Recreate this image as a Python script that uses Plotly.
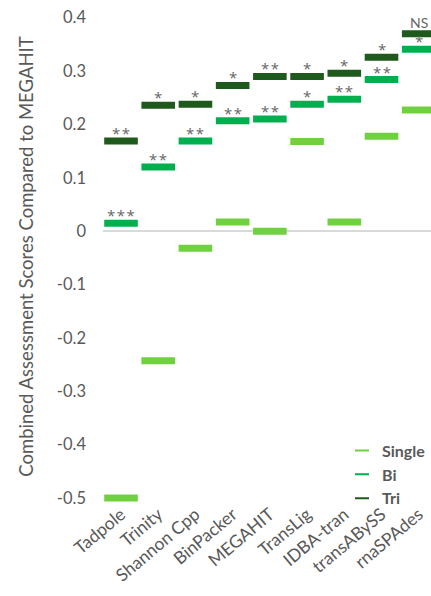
import plotly.graph_objects as go

# Assemblers, ordered by their tri-sample score
assemblers = ["Tadpole", "Trinity", "Shannon Cpp", "BinPacker", "MEGAHIT",
              "TransLig", "IDBA-tran", "transABySS", "rnaSPAdes"]

# Combined assessment scores relative to MEGAHIT
single = [-0.500, -0.243, -0.032, 0.017, 0.000, 0.168, 0.017, 0.178, 0.227]
bi = [0.015, 0.120, 0.169, 0.207, 0.210, 0.238, 0.247, 0.284, 0.341]
tri = [0.169, 0.236, 0.238, 0.273, 0.290, 0.290, 0.296, 0.326, 0.370]

# Significance labels for the Bi and Tri scores
bi_sig = ["***", "**", "**", "**", "**", "*", "**", "**", "*"]
tri_sig = ["**", "*", "*", "*", "**", "*", "*", "*", "NS"]

series_names = ["Single", "Bi", "Tri"]
colors = {"Single": "#6fd13f", "Bi": "#00b04f", "Tri": "#1e5a1b"}

FONT = "Lato"
GREY = "#595959"

fig = go.Figure()

for name, vals in zip(series_names, [single, bi, tri]):
    # short thick horizontal marks for each score
    fig.add_trace(go.Scatter(
        x=assemblers, y=vals, mode="markers", showlegend=False,
        marker=dict(symbol="line-ew", size=24,
                    line=dict(width=7, color=colors[name])),
        hovertemplate="%{x}<br>" + name + ": %{y}<extra></extra>",
    ))

for name in series_names:
    # legend entries with a thin short swatch
    fig.add_trace(go.Scatter(
        x=[None], y=[None], mode="markers", name=name,
        marker=dict(symbol="line-ew", size=10,
                    line=dict(width=2, color=colors[name])),
    ))

annotations = []
for vals, sig in ((bi, bi_sig), (tri, tri_sig)):
    for a, v, s in zip(assemblers, vals, sig):
        is_star = s != "NS"
        annotations.append(dict(
            x=a, y=v, text="\u200a".join(s) if is_star else s,
            showarrow=False, xanchor="center",
            yanchor="middle", yshift=8 if is_star else 11,
            font=dict(family="Open Sans" if is_star else FONT,
                      size=15 if is_star else 14, color="#666666"),
        ))

fig.update_layout(
    width=431, height=596,
    margin=dict(l=103, r=0, t=7, b=90),
    paper_bgcolor="white", plot_bgcolor="white",
    font=dict(family=FONT, color=GREY),
    annotations=annotations,
    legend=dict(
        x=1.0, y=0.145, xanchor="right", yanchor="top",
        font=dict(family=FONT, size=16, color=GREY, weight="bold"),
        bgcolor="rgba(0,0,0,0)", tracegroupgap=0, itemwidth=30,
    ),
    xaxis=dict(
        range=[-0.484, 8.33], showgrid=False, showline=False, ticks="",
        tickangle=-40, tickfont=dict(family=FONT, size=17.5, color=GREY),
        ticklabelstandoff=-6, automargin=False,
    ),
    yaxis=dict(
        range=[-0.515, 0.42], tickvals=[-0.5, -0.4, -0.3, -0.2, -0.1, 0, 0.1, 0.2, 0.3, 0.4],
        ticktext=["-0.5", "-0.4", "-0.3", "-0.2", "-0.1", "0", "0.1", "0.2", "0.3", "0.4"],
        showgrid=False, showline=False, ticks="",
        zeroline=True, zerolinecolor="#d9d9d9", zerolinewidth=2,
        tickfont=dict(family=FONT, size=16.5, color=GREY), ticklabelstandoff=16,
        title=dict(text="Combined Assessment Scores Compared to MEGAHIT",
                   font=dict(family=FONT, size=18.5, color=GREY), standoff=18),
        automargin=False,
    ),
)

fig.write_html("out.html")
